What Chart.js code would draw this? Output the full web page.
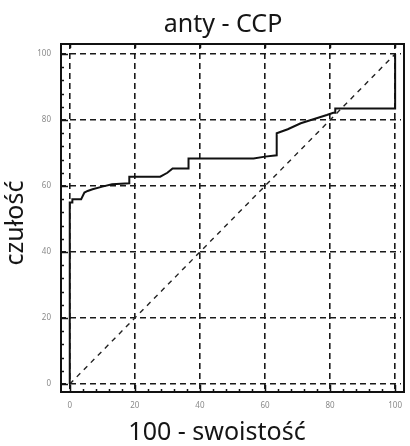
<!DOCTYPE html>
<html>
<head>
<meta charset="utf-8">
<script src="https://cdn.jsdelivr.net/npm/chart.js@4.4.1/dist/chart.umd.min.js"></script>
<style>
html,body{margin:0;padding:0;background:#fff;}
#wrap{width:410px;height:446px;position:relative;}
</style>
</head>
<body>
<div id="wrap"><canvas id="c" width="410" height="446"></canvas></div>
<script>
// ROC curve: x = 100 - specificity, y = sensitivity
const rocX = [0, 0, 0.8, 0.8, 3.5, 4.5, 5.5, 7, 10, 13, 18.3, 18.3, 27.8, 30, 31.6, 36.5, 36.5, 56.5, 60, 63.6, 63.6, 67, 71, 79, 81, 81.6, 81.6, 100, 100];
const rocY = [0, 55, 55, 56, 56, 58, 58.5, 59, 59.8, 60.5, 60.8, 62.8, 62.8, 64, 65.3, 65.3, 68.3, 68.3, 68.9, 69.3, 76, 77.2, 79, 81.5, 82.2, 82.2, 83.5, 83.5, 100];
const diagX = [0, 100];
const diagY = [0, 100];
const xTicks = [0, 20, 40, 60, 80, 100];
const yTicks = [0, 20, 40, 60, 80, 100];
const titleText = 'anty - CCP';
const xTitle = '100 - swoistość';
const yTitle = 'czułość';

const FONT = '"Noto Sans", "Open Sans", sans-serif';

const framePlugin = {
  id: 'frame',
  afterDatasetsDraw(chart) {
    const ctx = chart.ctx, a = chart.chartArea;
    const xs = chart.scales.x, ys = chart.scales.y;
    ctx.save();
    ctx.strokeStyle = '#111';
    ctx.lineWidth = 2;
    ctx.strokeRect(a.left + 1, a.top + 1, a.right - a.left + 2, a.bottom - a.top - 2);
    ctx.lineWidth = 1.5;
    ctx.beginPath();
    for (let v = 0; v <= 100; v += 4) {
      const major = v % 20 === 0;
      const px = Math.round(xs.getPixelForValue(v)) + 0.5;
      const len = major ? 7 : 3;
      ctx.moveTo(px, a.bottom - 1); ctx.lineTo(px, a.bottom - 1 - len);
      const py = Math.round(ys.getPixelForValue(v)) + 0.5;
      ctx.moveTo(a.left + 1, py); ctx.lineTo(a.left + 1 + len, py);
      if (major) {
        ctx.moveTo(px, a.top + 2); ctx.lineTo(px, a.top + 5);
      }
    }
    ctx.stroke();
    ctx.restore();
  },
  afterDraw(chart) {
    const ctx = chart.ctx;
    ctx.save();
    ctx.fillStyle = '#151515';
    ctx.textAlign = 'center';
    ctx.textBaseline = 'alphabetic';
    ctx.font = '25px ' + FONT;
    ctx.fillText(titleText, 223, 32);
    ctx.fillText(xTitle, 217, 440);
    ctx.translate(23, 223);
    ctx.rotate(-Math.PI / 2);
    ctx.fillText(yTitle, 0, 0);
    ctx.restore();
  }
};

new Chart(document.getElementById('c'), {
  type: 'line',
  data: {
    datasets: [
      {
        data: rocX.map((x, i) => ({x: x, y: rocY[i]})),
        borderColor: '#111',
        borderWidth: 2,
        pointRadius: 0,
        tension: 0,
        fill: false
      },
      {
        data: diagX.map((x, i) => ({x: x, y: diagY[i]})),
        borderColor: '#222',
        borderWidth: 1.4,
        borderDash: [5, 5],
        pointRadius: 0,
        tension: 0,
        fill: false
      }
    ]
  },
  options: {
    responsive: false,
    animation: false,
    events: [],
    layout: {padding: {top: 43, right: 0, left: 0, bottom: 0}},
    plugins: {legend: {display: false}, tooltip: {enabled: false}, title: {display: false}},
    scales: {
      x: {
        type: 'linear',
        min: -3,
        max: 101.8,
        afterBuildTicks: s => { s.ticks = xTicks.map(v => ({value: v})); },
        afterFit: s => { s.height = 53; },
        grid: {color: '#1a1a1a', lineWidth: 1.6, drawTicks: false},
        border: {display: false, dash: [6, 4]},
        ticks: {color: '#8a8a8a', font: {size: 8, family: FONT}, padding: 8, maxRotation: 0, autoSkip: false}
      },
      y: {
        type: 'linear',
        min: -2.73,
        max: 103.33,
        afterBuildTicks: s => { s.ticks = yTicks.map(v => ({value: v})); },
        afterFit: s => { s.width = 60; },
        grid: {color: '#1a1a1a', lineWidth: 1.6, drawTicks: false},
        border: {display: false, dash: [6, 4]},
        ticks: {color: '#8a8a8a', font: {size: 8, family: FONT}, padding: 9, autoSkip: false}
      }
    }
  },
  plugins: [framePlugin]
});
</script>
</body>
</html>
